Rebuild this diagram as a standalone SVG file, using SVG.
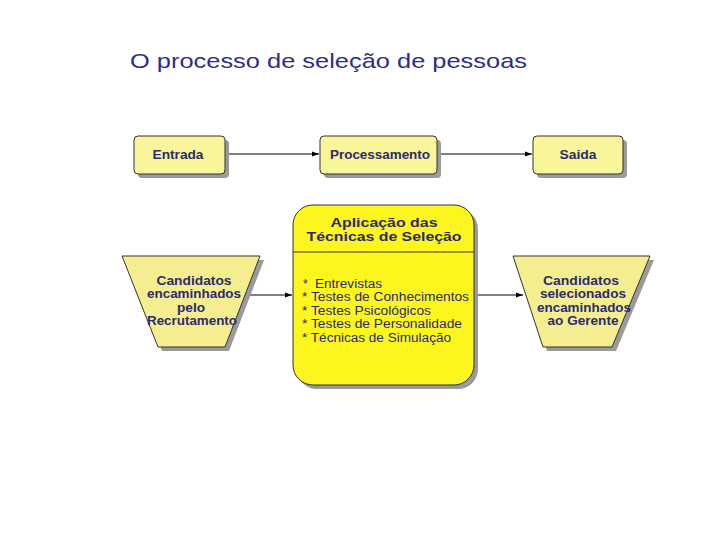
<svg xmlns="http://www.w3.org/2000/svg" width="720" height="540" viewBox="0 0 720 540">
<style>
.t{font-family:"Liberation Sans",Arial,sans-serif;fill:#2b2b6e}
.b{font-weight:bold;font-size:12.5px;text-anchor:middle}
.l{font-size:12.5px}
.shadow{fill:#9a9a9a}
.pale{fill:#f9f59a;stroke:#333;stroke-width:1}
.trap{fill:#f5ee90;stroke:#333;stroke-width:1}
.conn{stroke:#000;stroke-width:1;fill:none}
</style>
<defs>
<marker id="ah" markerWidth="8" markerHeight="6" refX="7" refY="3" orient="auto" markerUnits="userSpaceOnUse">
<path d="M0,0.5 L7,3 L0,5.5 Z" fill="#000"/>
</marker>
</defs>
<rect width="720" height="540" fill="#fff"/>
<text class="t" x="130" y="68" font-size="21" textLength="397" lengthAdjust="spacingAndGlyphs" style="fill:#2e2e86">O processo de seleção de pessoas</text>

<g id="connectors">
<line class="conn" x1="225" y1="154" x2="319" y2="154" marker-end="url(#ah)"/>
<line class="conn" x1="437" y1="154" x2="532" y2="154" marker-end="url(#ah)"/>
<line class="conn" x1="243" y1="295" x2="292" y2="295" marker-end="url(#ah)"/>
<line class="conn" x1="478" y1="295" x2="523" y2="295" marker-end="url(#ah)"/>
</g>

<g id="entrada">
<rect class="shadow" x="138" y="140" width="91" height="38" rx="4"/>
<rect class="pale" x="134" y="136" width="91" height="38" rx="4"/>
<text class="t b" x="178" y="159" textLength="51" lengthAdjust="spacingAndGlyphs">Entrada</text>
</g>
<g id="processamento">
<rect class="shadow" x="324" y="140" width="117" height="38" rx="4"/>
<rect class="pale" x="320" y="136" width="117" height="38" rx="4"/>
<text class="t b" x="380" y="159" textLength="100" lengthAdjust="spacingAndGlyphs">Processamento</text>
</g>
<g id="saida">
<rect class="shadow" x="537" y="140" width="90" height="38" rx="4"/>
<rect class="pale" x="533" y="136" width="90" height="38" rx="4"/>
<text class="t b" x="578" y="159" textLength="37" lengthAdjust="spacingAndGlyphs">Saida</text>
</g>

<g id="candidatos-recrutamento">
<polygon class="shadow" points="126,260 264,260 229,351 162,351"/>
<polygon class="trap" points="122,256 260,256 225,347 158,347"/>
<text class="t b" x="194" y="285" textLength="75" lengthAdjust="spacingAndGlyphs">Candidatos</text>
<text class="t b" x="194" y="298" textLength="94" lengthAdjust="spacingAndGlyphs">encaminhados</text>
<text class="t b" x="191" y="312" textLength="28" lengthAdjust="spacingAndGlyphs">pelo</text>
<text class="t b" x="192" y="325" textLength="90" lengthAdjust="spacingAndGlyphs">Recrutamento</text>
</g>

<g id="tecnicas">
<rect class="shadow" x="297" y="209" width="181" height="180" rx="20"/>
<rect x="293" y="205" width="181" height="180" rx="20" fill="#fcf61c" stroke="#333" stroke-width="1"/>
<line x1="293" y1="252" x2="474" y2="252" stroke="#333" stroke-width="1"/>
<text class="t b" x="384" y="227" font-size="13" textLength="107" lengthAdjust="spacingAndGlyphs">Aplicação das</text>
<text class="t b" x="384" y="241" font-size="13" textLength="155" lengthAdjust="spacingAndGlyphs">Técnicas de Seleção</text>
<text class="t l" x="303" y="288">*</text>
<text class="t l" x="315" y="288" textLength="67" lengthAdjust="spacingAndGlyphs">Entrevistas</text>
<text class="t l" x="302" y="301" textLength="167" lengthAdjust="spacingAndGlyphs">* Testes de Conhecimentos</text>
<text class="t l" x="302" y="315" textLength="129" lengthAdjust="spacingAndGlyphs">* Testes Psicológicos</text>
<text class="t l" x="302" y="328" textLength="160" lengthAdjust="spacingAndGlyphs">* Testes de Personalidade</text>
<text class="t l" x="302" y="342" textLength="149" lengthAdjust="spacingAndGlyphs">* Técnicas de Simulação</text>
</g>

<g id="candidatos-selecionados">
<polygon class="shadow" points="517,260 654,260 616,351 547,351"/>
<polygon class="trap" points="513,256 650,256 612,347 543,347"/>
<text class="t b" x="581" y="285" textLength="76" lengthAdjust="spacingAndGlyphs">Candidatos</text>
<text class="t b" x="583" y="298" textLength="86" lengthAdjust="spacingAndGlyphs">selecionados</text>
<text class="t b" x="584" y="312" textLength="94" lengthAdjust="spacingAndGlyphs">encaminhados</text>
<text class="t b" x="583" y="325" textLength="71" lengthAdjust="spacingAndGlyphs">ao Gerente</text>
</g>
</svg>
